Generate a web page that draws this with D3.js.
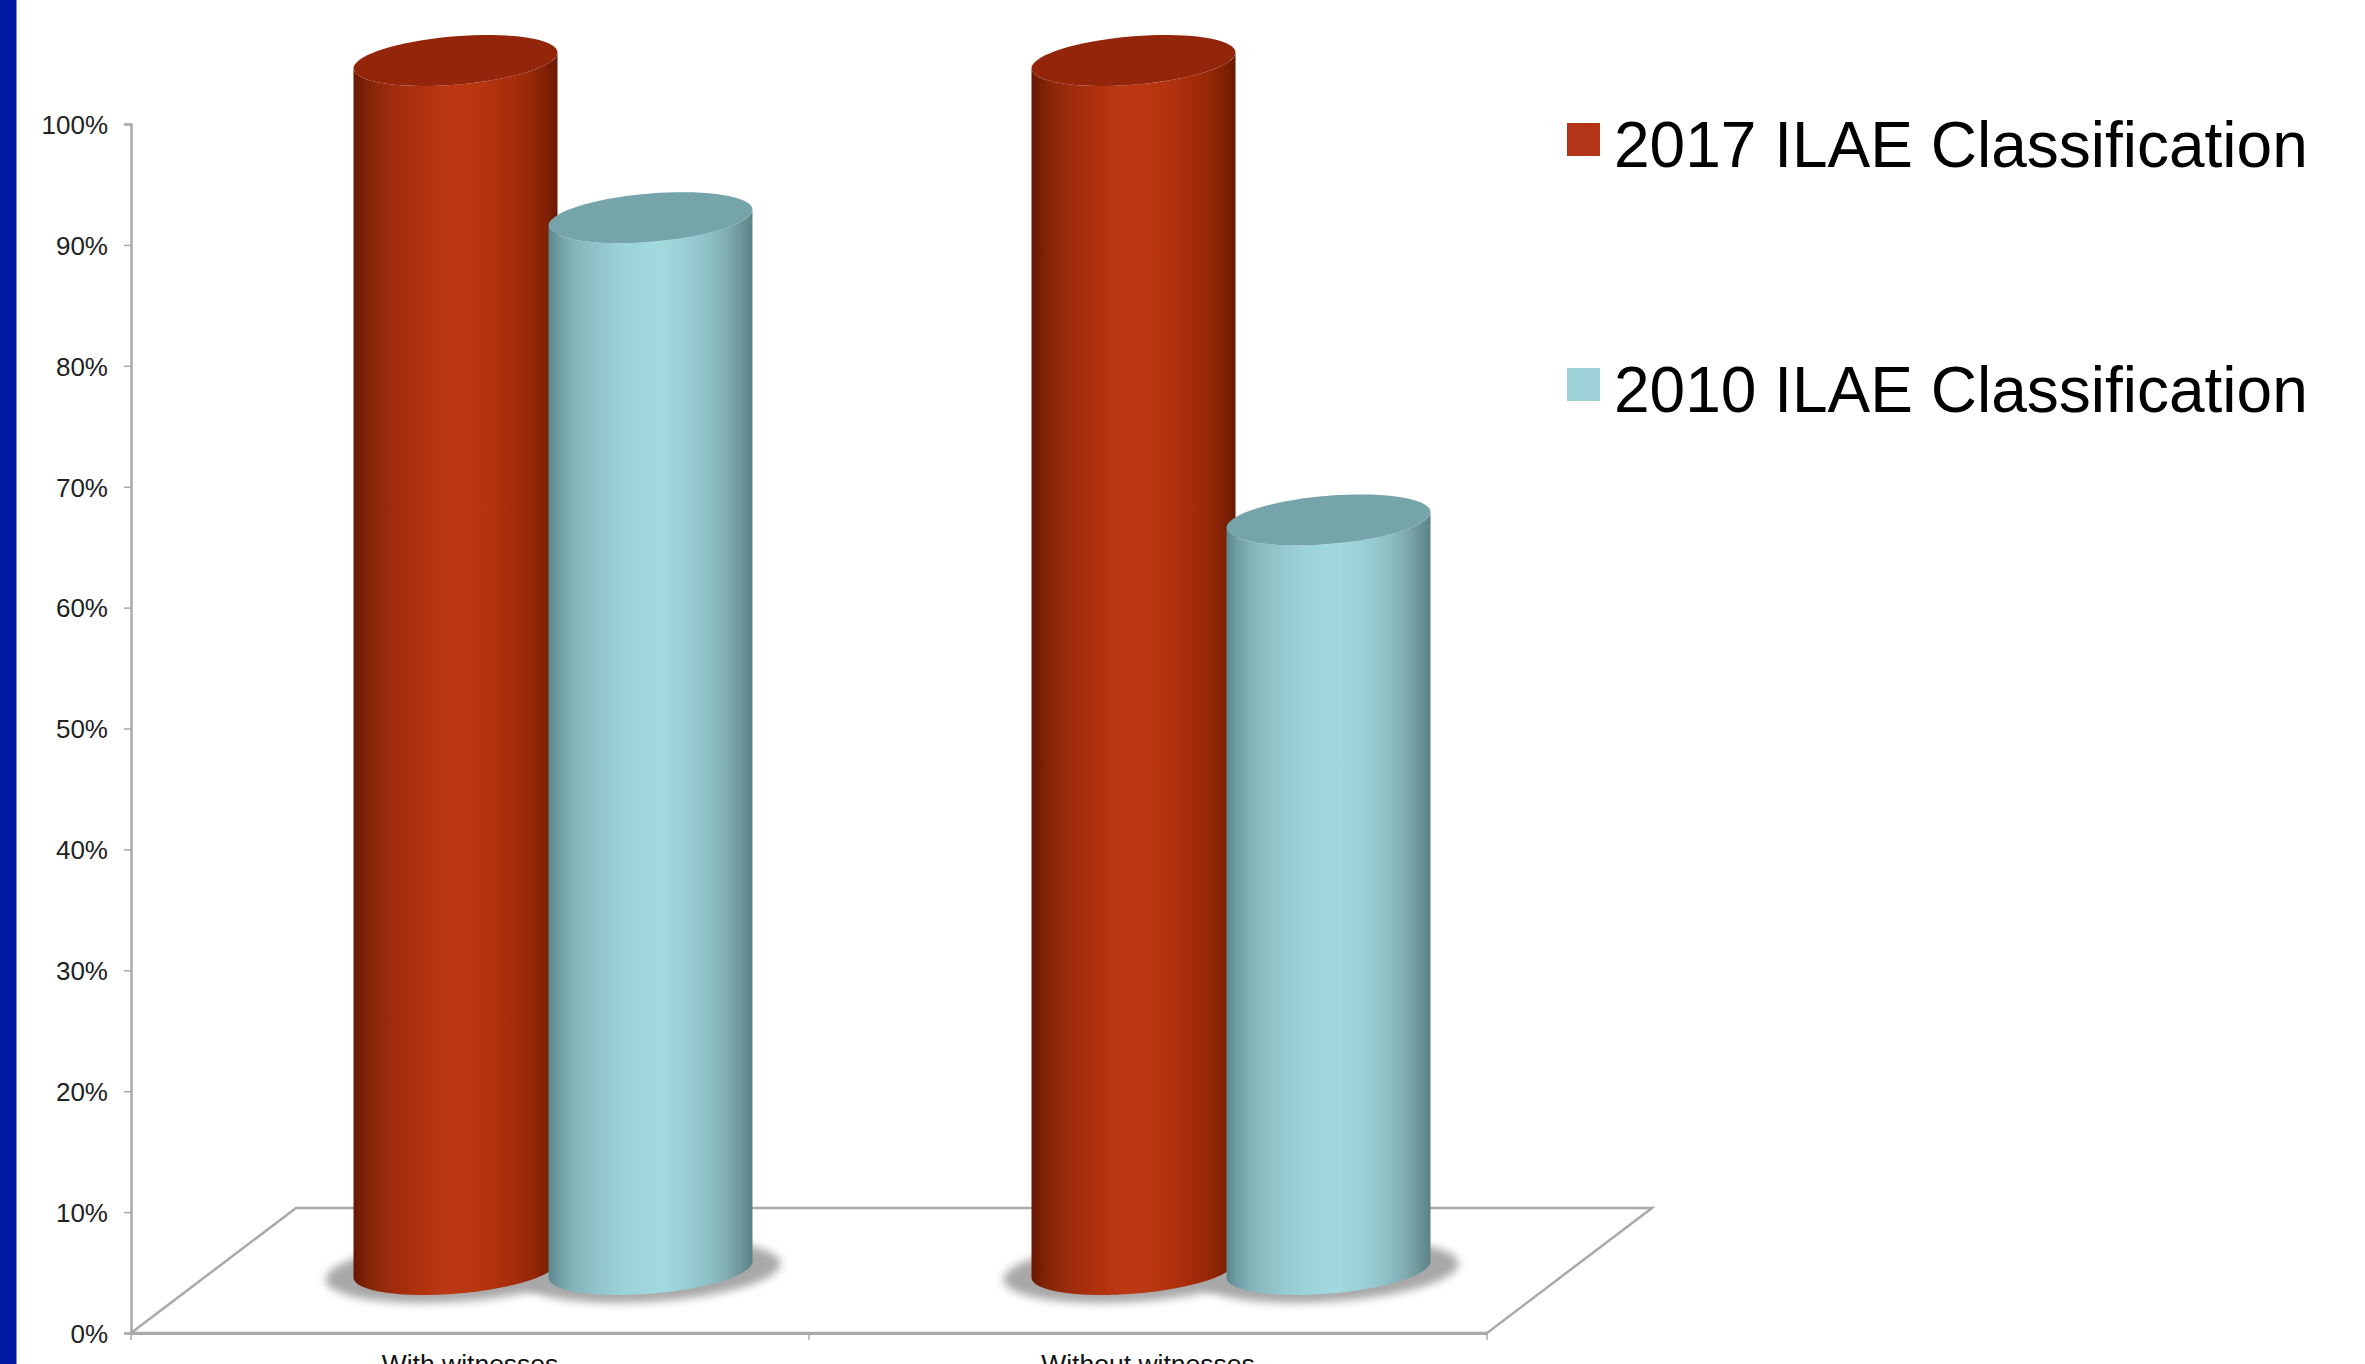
<!DOCTYPE html>
<html>
<head>
<meta charset="utf-8">
<script src="https://cdn.jsdelivr.net/npm/d3@7"></script>
<style>
  html, body { margin: 0; padding: 0; background: #fff; overflow: hidden; }
  svg { display: block; }
  text { font-family: "Liberation Sans", Arial, sans-serif; }
</style>
</head>
<body>
<div id="chart"></div>
<script>
// Chart values, in percent
const categories = ["With witnesses", "Without witnesses"];
const seriesNames = ["2017 ILAE Classification", "2010 ILAE Classification"];
const values2017 = [100, 100];
const values2010 = [87, 62];
const yTicks = [0, 10, 20, 30, 40, 50, 60, 70, 80, 90, 100];

const width = 2365, height = 1364;
const axisX = 131, floorRight = 1487, axisBottom = 1333, axisTop = 124;
const depthX = 165, depthY = 125;      // oblique offset of the floor's back edge
const radiusX = 102, radiusY = 24.2, tilt = 8;

const svg = d3.select("#chart").append("svg")
  .attr("width", width).attr("height", height);

const x = d3.scaleBand().domain(categories).range([axisX, floorRight]);
const y = d3.scaleLinear().domain([0, 100]).range([axisBottom, axisTop]);
const xSeries = d3.scaleOrdinal().domain(seriesNames).range([-97, 98]);

const palette = {
  [seriesNames[0]]: {
    swatch: "#b43417", top: "#92250a",
    stops: [[0, "#681803"], [0.05, "#7a2005"], [0.1, "#8a2808"], [0.18, "#9c2b0d"], [0.3, "#ad300e"],
            [0.37, "#b5340f"], [0.46, "#bc3815"], [0.59, "#b9360f"], [0.67, "#b3330e"], [0.78, "#a62c0b"],
            [0.88, "#932707"], [0.95, "#7e2003"], [1, "#6a1a01"]]
  },
  [seriesNames[1]]: {
    swatch: "#9fd2d8", top: "#75a4aa",
    stops: [[0, "#5a868c"], [0.05, "#6f9da3"], [0.12, "#84b3b9"], [0.24, "#92c5cb"], [0.38, "#9bd3d9"],
            [0.55, "#a1d9df"], [0.66, "#9ad0d6"], [0.78, "#8fc2c8"], [0.88, "#7fabb1"], [0.95, "#6c9398"], [1, "#5b8186"]]
  }
};

const defs = svg.append("defs");
seriesNames.forEach((name, i) => {
  const grad = defs.append("linearGradient").attr("id", "body" + i)
    .attr("x1", 0).attr("x2", 1).attr("y1", 0).attr("y2", 0);
  palette[name].stops.forEach(([o, c]) => grad.append("stop").attr("offset", o).attr("stop-color", c));
});
defs.append("filter").attr("id", "soft")
  .attr("x", "-20%").attr("y", "-50%").attr("width", "140%").attr("height", "200%")
  .append("feGaussianBlur").attr("stdDeviation", 4);

// Left page stripe
svg.append("rect").attr("width", 16.5).attr("height", height).attr("fill", "#0019a2");

const grey = "#a9a9a9";

// Floor parallelogram
const floor = d3.line()([
  [axisX, axisBottom], [floorRight, axisBottom],
  [floorRight + depthX, axisBottom - depthY], [axisX + depthX, axisBottom - depthY]
]) + "Z";
svg.append("path").attr("d", floor).attr("fill", "#fff")
  .attr("stroke", grey).attr("stroke-width", 2.5);

// Value axis
const yAxis = svg.append("g").attr("transform", `translate(${axisX},0)`)
  .call(d3.axisLeft(y).tickValues(yTicks).tickFormat(d => d + "%").tickSize(7).tickPadding(16));
yAxis.select(".domain").attr("stroke", grey).attr("stroke-width", 2.5);
yAxis.selectAll(".tick line").attr("stroke", grey).attr("stroke-width", 1.5);
yAxis.selectAll(".tick text").attr("fill", "#222").attr("font-size", 26).attr("y", 1)
  .attr("font-family", '"Liberation Sans", Arial, sans-serif');

// Category axis: ticks sit on band edges, labels in the band centres
const xAxis = svg.append("g").attr("transform", `translate(0,${axisBottom})`)
  .call(d3.axisBottom(x).tickSize(0).tickPadding(21));
xAxis.select(".domain").attr("stroke", grey).attr("stroke-width", 3);
xAxis.selectAll(".tick text").attr("fill", "#111").attr("font-size", 26.5)
  .attr("font-family", '"Liberation Sans", Arial, sans-serif');
const edges = [...categories.map(c => x(c)), x(categories[1]) + x.bandwidth()];
xAxis.selectAll("line.edge").data(edges).join("line").attr("class", "edge")
  .attr("x1", d => d).attr("x2", d => d).attr("y1", 0).attr("y2", 7)
  .attr("stroke", grey).attr("stroke-width", 1.5);

// Sheared ellipse outline between two parameter angles
const arcPoints = (cx, cy, from, to, grow = 0) =>
  d3.range(0, 73).map(k => {
    const t = from + (to - from) * k / 72;
    return [cx + (radiusX + grow) * Math.cos(t),
            cy + (radiusY + grow * 0.22) * Math.sin(t) - tilt * Math.cos(t)];
  });
const line = d3.line();

const bars = seriesNames.flatMap((name, i) =>
  categories.map((cat, c) => ({
    name, i, cat, value: (i === 0 ? values2017 : values2010)[c]
  })));
const centerX = d => x(d.cat) + x.bandwidth() / 2 + depthX / 2 + xSeries(d.name);
const baseY = y(0) - depthY / 2 - 1;
const topY = d => y(d.value) - depthY / 2 - 1;

// Contact shadows lie under every cylinder
svg.append("g").selectAll("path").data(bars).join("path")
  .attr("d", d => line(arcPoints(centerX(d), baseY + 2, 0, 2 * Math.PI, 28)) + "Z")
  .attr("fill", "#a8a8a8").attr("filter", "url(#soft)");

// Cylinders: lower-rim body first, lit cap on top
const cyl = svg.append("g").selectAll("g").data(bars).join("g");
cyl.append("path")
  .attr("d", d => line([
    ...arcPoints(centerX(d), baseY, Math.PI, 0),
    ...arcPoints(centerX(d), topY(d), 0, Math.PI)
  ]) + "Z")
  .attr("fill", d => `url(#body${d.i})`);
cyl.append("path")
  .attr("d", d => line(arcPoints(centerX(d), topY(d), 0, 2 * Math.PI)) + "Z")
  .attr("fill", d => palette[d.name].top);

// Legend
const legendY = d3.scalePoint().domain(seriesNames).range([167, 412]);
const legend = svg.append("g").selectAll("g").data(seriesNames).join("g")
  .attr("transform", d => `translate(0,${legendY(d)})`);
legend.append("rect").attr("x", 1567).attr("y", -44).attr("width", 33).attr("height", 33)
  .attr("fill", d => palette[d].swatch);
legend.append("text").attr("x", 1614).attr("y", 0).attr("font-size", 64).attr("fill", "#000")
  .text(d => d);
</script>
</body>
</html>
